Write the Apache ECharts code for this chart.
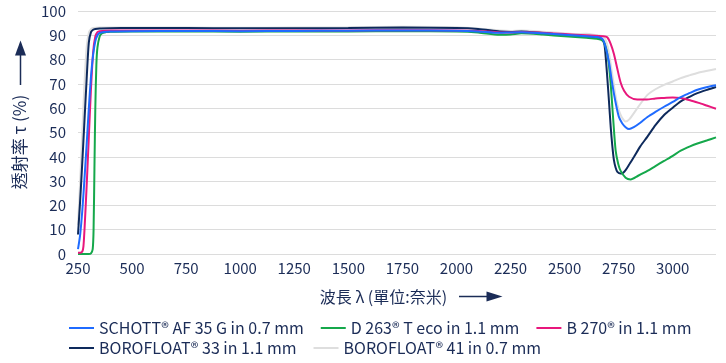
<!DOCTYPE html>
<html><head><meta charset="utf-8">
<script src="https://cdn.jsdelivr.net/npm/echarts@6/dist/echarts.min.js"></script>
<style>html,body{margin:0;padding:0;background:#fff}#c{width:726px;height:363px}</style>
</head><body><div id="c"></div>
<script>
const xTicks = [250,500,750,1000,1250,1500,1750,2000,2250,2500,2750,3000];
const yTicks = [0,10,20,30,40,50,60,70,80,90,100];

const names = ['SCHOTT® AF 35 G in 0.7 mm','D 263® T eco in 1.1 mm','B 270® in 1.1 mm','BOROFLOAT® 33 in 1.1 mm','BOROFLOAT® 41 in 0.7 mm'];

const wlAF35 = [250,260,270,280,290,300,310,320,330,340,350,370,400,500,750,1000,1250,1500,1750,2000,2100,2200,2250,2300,2400,2500,2600,2650,2675,2690,2705,2717,2728,2740,2751,2766,2782,2798,2820,2850,2883,2920,2960,3000,3037,3080,3114,3160,3200];
const tAF35  = [2,8,18,31,45,60,73,82,87.5,90,91,91.4,91.6,91.7,91.8,91.7,91.8,91.9,92,91.9,91.6,91,91.2,91.3,90.8,90.2,89.6,89.3,88.5,85,79,72,66,60.5,56.4,53.8,52.2,51.4,52.2,54,56.4,58.5,60.6,62.6,64.6,66.3,67.6,68.7,69.4];

const wlD263 = [250,300,310,318,322,326,330,335,340,350,360,380,400,500,750,1000,1250,1500,1750,2000,2100,2200,2250,2300,2400,2500,2600,2650,2680,2700,2713,2725,2736,2748,2759,2782,2805,2840,2883,2920,2960,3000,3037,3080,3114,3160,3200];
const tD263  = [0,0,0.3,2,10,35,60,78,85,89.5,90.8,91.3,91.5,91.6,91.6,91.5,91.6,91.6,91.7,91.6,91.2,90.2,90.3,90.8,90.3,89.6,89,88.6,87.5,81,70,55,42.5,37,34.2,31.4,30.7,32.2,34.2,36.2,38.3,40.4,42.5,44.3,45.5,46.8,48];

const wlB270 = [250,260,270,275,280,290,300,310,320,330,340,350,400,500,750,1000,1250,1500,1750,2000,2100,2200,2250,2300,2400,2500,2600,2680,2697,2713,2728,2744,2759,2775,2798,2836,2880,2920,2960,3000,3037,3080,3120,3160,3200];
const tB270  = [0.5,0.5,1,3,10,28,48,68,83,89.5,91.3,91.7,92,92,92,91.9,92,92,92.1,92,91.8,91.2,91.2,91.4,91,90.5,90,89.6,89.2,86.5,82.3,76.1,70.6,67.2,64.7,63.6,63.6,64,64.2,64.4,64.2,63.3,62.2,61,59.8];

const wlBF33 = [250,260,270,280,290,300,310,320,330,350,400,500,750,1000,1250,1500,1750,2000,2100,2200,2250,2300,2400,2500,2600,2660,2682,2690,2697,2705,2713,2720,2728,2736,2744,2759,2770,2782,2800,2821,2850,2883,2920,2960,3000,3037,3080,3114,3160,3200];
const tBF33  = [8,22,38,55,72,87,91.3,92.3,92.6,92.8,92.9,93,93,92.9,92.9,93,93.2,93,92.6,91.6,91.4,91.6,90.9,90.2,89.5,89,87,81,73,63,52.4,45,38.6,35.5,33.8,33.1,33.4,34.5,37,40,44.3,48.3,53,57.2,60.2,62.8,64.8,66.2,67.6,68.7];

const wlBF41 = [250,260,270,280,290,300,310,320,350,500,750,1000,1250,1500,1750,2000,2100,2200,2250,2300,2400,2500,2550,2600,2650,2680,2700,2720,2740,2760,2782,2800,2840,2883,2920,2960,3000,3037,3080,3114,3160,3200];
const tBF41  = [12,30,50,70,85,91,92.5,93,93.2,93.2,93.2,93.1,93.2,93.3,93.5,93.3,92.8,92,91.8,92,91.5,90.8,90.5,90.6,90,89.5,85,74,63,57,54.5,55.5,60.5,65.5,67.8,69.6,71,72.4,73.6,74.5,75.4,76.1];

const colors = ['#1f6bff','#15a84b','#e8177c','#0e2a5c','#dedede'];
const txt = '#1b2c57';
const font = 'Noto Sans CJK TC';

function pairs(xs, ys){ return xs.map((x,i)=>[x, ys[i]]); }
const seriesData = [pairs(wlAF35,tAF35), pairs(wlD263,tD263), pairs(wlB270,tB270), pairs(wlBF33,tBF33), pairs(wlBF41,tBF41)];
const drawOrder = [4,3,1,2,0];

const legendCommon = {padding:0,itemGap:17,itemWidth:25,itemHeight:2,icon:'rect',
  textStyle:{color:txt,fontSize:16,fontFamily:font}};

const chart = echarts.init(document.getElementById('c'));
chart.setOption({
  animation:false,
  textStyle:{fontFamily:font},
  grid:{left:78,right:10,top:11,bottom:109},
  xAxis:{type:'value',min:xTicks[0],max:3200,interval:250,
    axisLine:{show:false},axisTick:{show:false},splitLine:{show:false},
    axisLabel:{color:txt,fontSize:15,fontFamily:font,margin:7,showMaxLabel:false,formatter:v=>String(v)}},
  yAxis:{type:'value',min:yTicks[0],max:yTicks[yTicks.length-1],interval:10,
    axisLine:{show:false},axisTick:{show:false},
    splitLine:{lineStyle:{color:'#dcdcdc',width:1}},
    axisLabel:{color:txt,fontSize:15,fontFamily:font,margin:12}},
  legend:[
    Object.assign({data:[names[0],names[1],names[2]],left:69,top:320},legendCommon),
    Object.assign({data:[names[3],names[4]],left:69,top:340},legendCommon)
  ],
  series: drawOrder.map(i=>({name:names[i],type:'line',data:seriesData[i],showSymbol:false,symbol:'none',
    smooth:0.25,lineStyle:{color:colors[i],width:2},itemStyle:{color:colors[i]}})),
  graphic:[
    {type:'text',x:20,y:142,rotation:Math.PI/2,style:{text:'透射率 τ (%)',fill:txt,fontSize:17,fontFamily:font,align:'center',verticalAlign:'middle'}},
    {type:'line',shape:{x1:20.5,y1:85,x2:20.5,y2:54},style:{stroke:txt,lineWidth:1.5}},
    {type:'polygon',shape:{points:[[20.5,40.5],[15,55.5],[26,55.5]]},style:{fill:txt}},
    {type:'text',x:383.5,y:297,style:{text:'波長 λ (單位:奈米)',fill:txt,fontSize:16,fontFamily:font,align:'center',verticalAlign:'middle'}},
    {type:'line',shape:{x1:459,y1:296.5,x2:490,y2:296.5},style:{stroke:txt,lineWidth:1.5}},
    {type:'polygon',shape:{points:[[502.5,296.5],[486.5,291.5],[486.5,301.5]]},style:{fill:txt}}
  ]
});
</script></body></html>
